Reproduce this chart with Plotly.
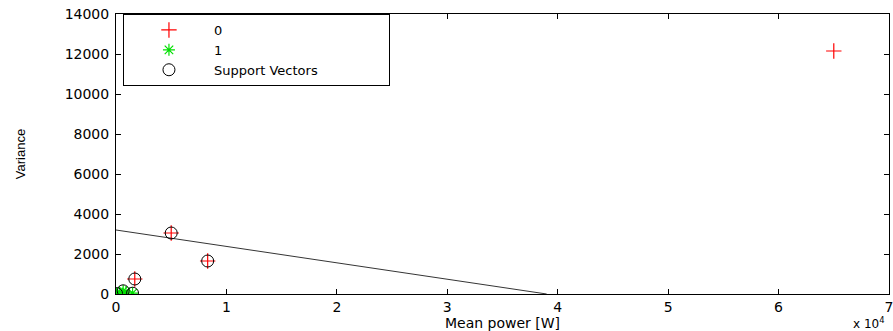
import plotly.graph_objects as go

# class 0 points (mean power [W], variance)
class0_x = [65000, 5000, 8300, 1700]
class0_y = [12150, 3050, 1650, 750]

# class 1 points
class1_x = [50, 300, 650, 900, 1500]
class1_y = [20, 60, 160, 100, 40]

# support vectors
sv_x = [5000, 8300, 1700, 50, 650, 1500]
sv_y = [3050, 1650, 750, 20, 160, 40]

# decision boundary end points
line_x = [0, 39000]
line_y = [3200, 0]

legend_names = ["0", "1", "Support Vectors"]

FONT = "DejaVu Sans, Liberation Sans, Arial, sans-serif"
PAD = "\u00a0" * 16  # widen legend box like the original

fig = go.Figure()
fig.add_trace(go.Scatter(x=class0_x, y=class0_y, mode="markers", name=legend_names[0],
                         marker=dict(symbol="cross-thin-open", size=11, color="red",
                                     line=dict(color="red", width=1.2))))
fig.add_trace(go.Scatter(x=class1_x, y=class1_y, mode="markers", name=legend_names[1],
                         marker=dict(symbol="asterisk-open", size=10, color="#00e000",
                                     line=dict(color="#00e000", width=1.2))))
fig.add_trace(go.Scatter(x=sv_x, y=sv_y, mode="markers", name=legend_names[2] + PAD,
                         marker=dict(symbol="circle-open", size=12, color="black",
                                     line=dict(color="black", width=1))))
fig.add_trace(go.Scatter(x=line_x, y=line_y, mode="lines", showlegend=False,
                         line=dict(color="black", width=0.8)))

axis_common = dict(showline=True, linecolor="black", linewidth=1, mirror="ticks",
                   ticks="inside", ticklen=5, tickcolor="black", showgrid=False,
                   zeroline=False, automargin=False, ticklabeloverflow="allow",
                   tickfont=dict(size=14, color="black", family=FONT))

fig.update_xaxes(range=[0, 70000], tickvals=[0, 10000, 20000, 30000, 40000, 50000, 60000, 70000],
                 ticktext=["0", "1", "2", "3", "4", "5", "6", "7"],
                 title=dict(text="Mean power [W]", font=dict(size=14, family=FONT, color="black"),
                            standoff=0),
                 **axis_common)
fig.update_yaxes(range=[0, 14000], dtick=2000, tickformat="d", ticklabelstandoff=3,
                 title=dict(text="Variance", font=dict(size=13, family="Liberation Sans Narrow, Liberation Sans",
                                                       color="black"), standoff=36),
                 **axis_common)

fig.add_annotation(text="x 10<sup>4</sup>", xref="paper", yref="paper", x=1.0, y=0,
                   xanchor="right", yanchor="top", xshift=-2, yshift=-19, showarrow=False,
                   font=dict(size=12, family=FONT, color="black"))

fig.update_layout(
    width=893, height=331,
    margin=dict(l=116, r=4, t=14, b=37),
    plot_bgcolor="white", paper_bgcolor="white",
    font=dict(family=FONT, size=14, color="black"),
    legend=dict(x=0.009, y=1, xanchor="left", yanchor="top", bordercolor="black",
                borderwidth=1, bgcolor="white", itemwidth=80,
                font=dict(size=13, family=FONT), tracegroupgap=0),
)

fig.write_html("out.html", config={"displayModeBar": False},
               post_script="document.body.style.margin='0';")
